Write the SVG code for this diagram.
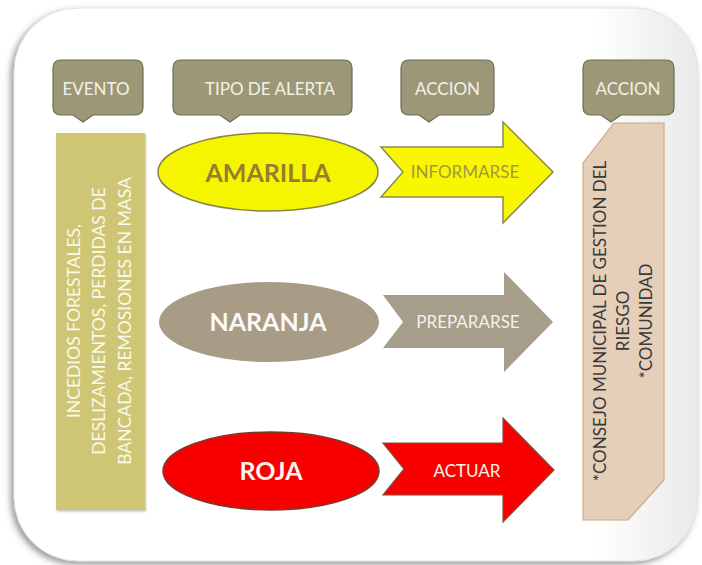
<svg xmlns="http://www.w3.org/2000/svg" width="702" height="565" viewBox="0 0 702 565">
<defs>
<filter id="sh" x="-10%" y="-10%" width="120%" height="120%">
<feDropShadow dx="-3" dy="3" stdDeviation="3" flood-color="#555" flood-opacity="0.6"/>
</filter>
<filter id="soft" x="-10%" y="-10%" width="120%" height="130%">
<feDropShadow dx="1" dy="1.5" stdDeviation="1" flood-color="#000" flood-opacity="0.25"/>
</filter>
<linearGradient id="tr" x1="0" y1="0" x2="1" y2="0">
<stop offset="0.85" stop-color="#fff"/>
<stop offset="1" stop-color="#e9e9e9"/>
</linearGradient>
</defs>
<style>
.hdr{fill:#9c9877;stroke:#6f6c54;stroke-width:1.2}
.ht{font-family:Lato,"Open Sans",sans-serif;font-size:17px;fill:#f3f1e6;text-anchor:middle}
.big{font-family:Lato,"Open Sans",sans-serif;font-weight:bold;font-size:25px;text-anchor:middle}
.arr{font-family:Lato,"Open Sans",sans-serif;font-size:17px;text-anchor:middle}
.vt{font-family:Lato,"Open Sans",sans-serif;text-anchor:middle}
</style>
<rect width="702" height="565" fill="#fff"/>
<g id="frame">
<rect x="14" y="8" width="684" height="553" rx="64" fill="url(#tr)" stroke="#e2e2e2" stroke-width="1" filter="url(#sh)"/>
</g>
<g id="h-evento">
<path class="hdr" d="M61,60 H135 Q143,60 143,68 V107 Q143,115 135,115 H93 L83,122 L73,115 H61 Q53,115 53,107 V68 Q53,60 61,60 Z"/>
<text class="ht" x="96" y="95">EVENTO</text>
</g>
<g id="h-tipo">
<path class="hdr" d="M181,60 H344 Q352,60 352,68 V107 Q352,115 344,115 H240 L230,122 L220,115 H181 Q173,115 173,107 V68 Q173,60 181,60 Z"/>
<text class="ht" x="270" y="95">TIPO DE ALERTA</text>
</g>
<g id="h-accion1">
<path class="hdr" d="M409,60 H486 Q494,60 494,68 V107 Q494,115 486,115 H439 L429,122 L419,115 H409 Q401,115 401,107 V68 Q401,60 409,60 Z"/>
<text class="ht" x="447.5" y="95">ACCION</text>
</g>
<g id="h-accion2">
<path class="hdr" d="M591,60 H666 Q674,60 674,68 V107 Q674,115 666,115 H621 L611,122 L601,115 H591 Q583,115 583,107 V68 Q583,60 591,60 Z"/>
<text class="ht" x="628" y="95">ACCION</text>
</g>
<g id="evento">
<rect x="56" y="133" width="89" height="377" fill="#cec675" filter="url(#soft)"/>
<text class="vt" font-size="17.5" fill="#fbf8e6" transform="translate(0,321) rotate(-90)"><tspan x="0" y="80">INCEDIOS FORESTALES,</tspan><tspan x="0" y="105">DESLIZAMIENTOS, PERDIDAS DE</tspan><tspan x="0" y="131">BANCADA, REMOSIONES EN MASA</tspan></text>
</g>
<g id="amarilla">
<ellipse cx="268" cy="172" rx="110" ry="39" fill="#f6f500" stroke="#86864a" stroke-width="1.5"/>
<text class="big" x="268" y="182" fill="#9a7a33">AMARILLA</text>
</g>
<g id="naranja">
<ellipse cx="269" cy="322" rx="110" ry="40" fill="#a89c87"/>
<text class="big" x="268" y="331" fill="#fbfaf6">NARANJA</text>
</g>
<g id="roja">
<ellipse cx="271" cy="471" rx="108" ry="39" fill="#f80000" stroke="#7a3b2c" stroke-width="1.5"/>
<text class="big" x="271" y="480" fill="#fcf4f0">ROJA</text>
</g>
<g id="connectors">
<g id="arrow-informarse">
<polygon points="381,147 503,147 503,122 553,172 503,223 503,197 381,197 403,172" fill="#f8f700" stroke="#8a8a4c" stroke-width="1.5"/>
<text class="arr" x="465" y="178" fill="#a4954a">INFORMARSE</text>
</g>
<g id="arrow-prepararse">
<polygon points="383,295 504,295 504,272 553,322 504,372 504,348 383,348 403,322" fill="#a69d8a"/>
<text class="arr" x="468" y="328" fill="#f4f1ea">PREPARARSE</text>
</g>
<g id="arrow-actuar">
<polygon points="383,443 503,443 503,418 554,470 503,522 503,495 383,495 404,469" fill="#f80000" stroke="#8a4a36" stroke-width="1.2"/>
<text class="arr" x="467" y="477" fill="#fdf0ea">ACTUAR</text>
</g>
</g>
<g id="accion-box">
<polygon points="614,123 664,123 664,480 628,520 583,520 583,163" fill="#e6cfb9" stroke="#caa98c" stroke-width="1.2"/>
<text class="vt" font-size="17" fill="#3a3a3a" transform="translate(0,321) rotate(-90)"><tspan x="0" y="606">*CONSEJO MUNICIPAL DE GESTION DEL</tspan><tspan x="0" y="629">RIESGO</tspan><tspan x="0" y="652">*COMUNIDAD</tspan></text>
</g>
</svg>
